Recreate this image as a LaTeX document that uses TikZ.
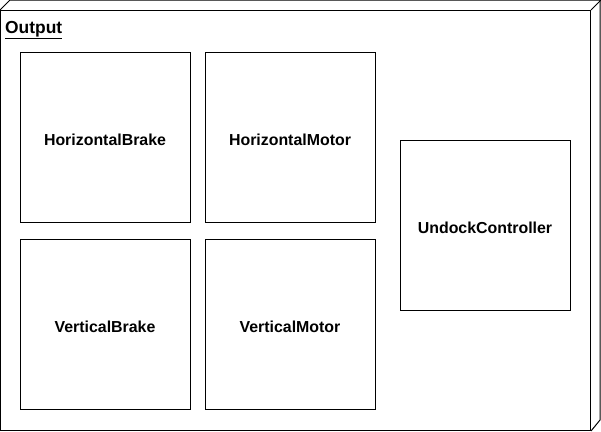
\documentclass[tikz,border=0pt]{standalone}
\usepackage{fontspec}
\setmainfont{Liberation Sans}
\begin{document}
\begin{tikzpicture}[x=1pt, y=-1pt]
 \tikzstyle{part}=[rectangle, draw, line width=1pt, minimum width=170pt, minimum height=170pt, text height=16pt, text depth=0pt, font=\fontsize{15.9}{18}\selectfont\bfseries, text=black]
 \tikzstyle{shell}=[line width=1pt, line join=miter]
 \useasboundingbox (0,0) rectangle (601,431);
 %
 \node[rectangle, draw, shell, minimum width=590pt, minimum height=420pt, inner sep=0pt] (Out) at (295.5,220.5) {};
 \draw[shell] (Out.north west) -- ++(10,-10) -- ++(590,0) -- ++(0,420) -- (Out.south east);
 \draw[shell] (Out.north east) -- ++(10,-10);
 \node[anchor=base west, inner sep=0pt, font=\fontsize{17.4}{20}\selectfont\bfseries] (OutLabel) at (5,33) {\underline{Output}};
 %
 \node[part] (HB) at (105,137) {HorizontalBrake};
 \node[part] (HM) at (290,137) {HorizontalMotor};
 \node[part] (UC) at (485,225) {UndockController};
 %
 \node[part] (VB) at (105,324) {VerticalBrake};
 \node[part] (VM) at (290,324) {VerticalMotor};
\end{tikzpicture}
\end{document}
